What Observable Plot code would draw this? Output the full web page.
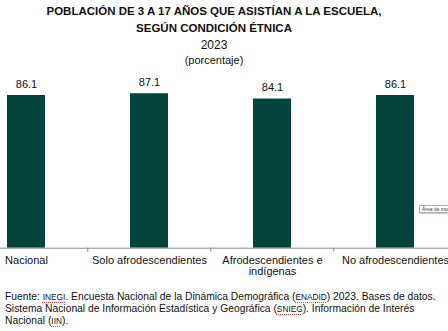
<!DOCTYPE html>
<html><head><meta charset="utf-8">
<script src="https://cdn.jsdelivr.net/npm/d3@7"></script>
<script src="https://cdn.jsdelivr.net/npm/@observablehq/plot@0.6"></script>
<style>
body{margin:0;background:#fff;font-family:"Liberation Sans",Arial,sans-serif;color:#111;}
#wrap{position:relative;width:448px;height:331px;overflow:hidden;background:#fff;}
.hd{position:absolute;left:0;width:428px;text-align:center;white-space:nowrap;}
.b{font-weight:bold;font-size:11.5px;}
.n{font-size:11.5px;}
#chart{position:absolute;left:0;top:68px;}
#foot{position:absolute;left:5px;top:291px;width:436px;font-size:10.3px;line-height:12px;color:#111;}
.ac{font-size:8.3px;text-decoration:underline dotted #d44;text-underline-offset:2px;}
#tip{position:absolute;left:419px;top:205px;font-size:5px;line-height:6px;border:1px solid #aaa;padding:0 2px;background:#fff;color:#444;white-space:nowrap;box-shadow:1px 1px 1px #ccc;}
</style></head>
<body>
<div id="wrap">
  <div class="hd b" style="top:5px">POBLACIÓN DE 3 A 17 AÑOS QUE ASISTÍAN A LA ESCUELA,</div>
  <div class="hd b" style="top:22px">SEGÚN CONDICIÓN ÉTNICA</div>
  <div class="hd n" style="top:38px;font-size:12px">2023</div>
  <div class="hd n" style="top:54px;font-size:11px">(porcentaje)</div>
  <div id="chart"></div>
  <div id="tip">Área de trazado</div>
  <div id="foot">Fuente: <span class="ac">INEGI</span>. Encuesta Nacional de la Dinámica Demográfica (<span class="ac">ENADID</span>) 2023. Bases de datos. Sistema Nacional de Información Estadística y Geográfica (<span class="ac">SNIEG</span>). Información de Interés Nacional (<span class="ac">IIN</span>).</div>
</div>
<script>
const categories = ["Nacional", "Solo afrodescendientes", "Afrodescendientes e indígenas", "No afrodescendientes"];
const values = [86.1, 87.1, 84.1, 86.1];
const tickLabels = ["Nacional", "Solo afrodescendientes", "Afrodescendientes e\nindígenas", "No afrodescendientes"];

const data = categories.map((c, i) => ({cat: c, value: values[i]}));
const labelOf = new Map(categories.map((c, i) => [c, tickLabels[i]]));
const step = (458 + 36) / categories.length;

const plot = Plot.plot({
  width: 448,
  height: 212,
  marginLeft: 0,
  marginRight: 0,
  marginTop: 2,
  marginBottom: 32,
  style: {fontFamily: "'Liberation Sans', Arial, sans-serif", background: "transparent", color: "#111"},
  x: {type: "band", domain: categories, range: [-36, 458], paddingInner: 0.687, paddingOuter: 0.3435, align: 0.5, label: null},
  y: {domain: [0, 100], range: [179.7, 2.35], axis: null},
  marks: [
    Plot.barY(data, {x: "cat", y: "value", fill: "#03453a"}),
    Plot.ruleY([0], {stroke: "#8a8a8a", strokeWidth: 1}),
    Plot.ruleX(categories.slice(1), {x: d => d, dx: -step / 2, y1: 0, y2: 0, insetBottom: -4, stroke: "#8a8a8a"}),
    Plot.axisX({tickSize: 0, tickPadding: 7, fontSize: 11, tickFormat: d => labelOf.get(d), lineHeight: 1.05, label: null}),
    Plot.text(data, {x: "cat", y: "value", text: d => d.value.toFixed(1), dy: -8, lineAnchor: "bottom", fontSize: 11, fill: "#111"})
  ]
});
document.getElementById("chart").appendChild(plot);
</script>
</body></html>
